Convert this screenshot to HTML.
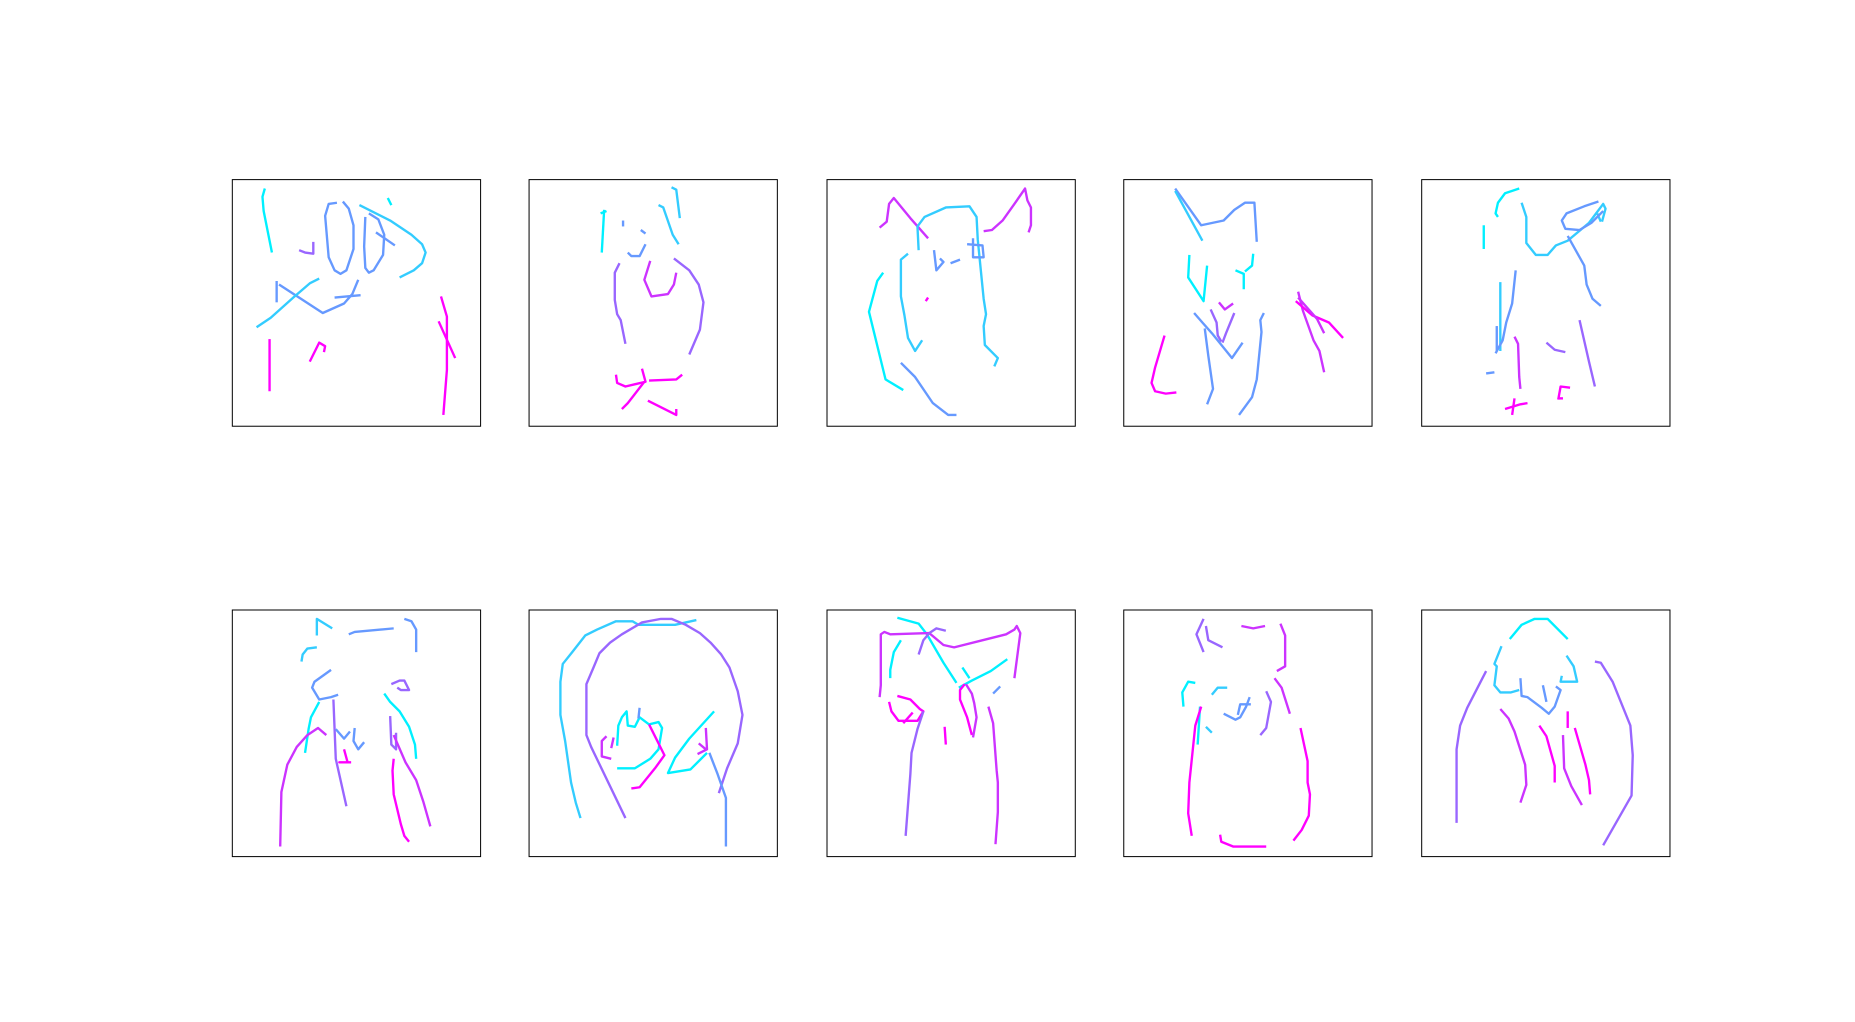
<!DOCTYPE html>
<html><head><meta charset="utf-8"><style>
html,body{margin:0;padding:0;background:#fff;}
svg{display:block;}
</style></head><body>
<svg id="fig" xmlns="http://www.w3.org/2000/svg" width="1855" height="1022" viewBox="0 0 1569 862" preserveAspectRatio="none">
<rect x="0" y="0" width="1569" height="862" fill="#fff"/>
</svg>
<script>
// panel origins (displayed coordinates)
const panelX = [196, 447, 699, 950, 1202];
const panelY = [151, 514];
const panelW = 210, panelH = 208;
const colors = ["#00f0ff", "#33ccff", "#6699ff", "#9966ff", "#cc33ff", "#ff00ff"];

// strokes: [colorIndex, flat absolute point list]
const sketch1 = [
[0,[224,159,222,166,223,178,230,213]],
[2,[290,170,295,176,299,190,299,210,293,228,288,231,283,228,278,217,275,182,278,172,285,171]],
[1,[304,173,330,186,348,198,357,206,360,213,357,222,350,228,338,234]],
[2,[312,180,320,185,325,198,324,215,316,228,312,230,309,226,308,208,309,183]],
[0,[328,167,331,173]],
[2,[318,196,334,207]],
[3,[253,211,258,213,265,214,265,204]],
[2,[234,237,234,255]],
[2,[236,240,273,264,291,256,298,248,303,236]],
[1,[217,276,229,268,248,251,262,239,270,235]],
[2,[283,251,305,249]],
[5,[228,286,228,330]],
[5,[262,305,270,289,275,292,274,297]],
[5,[373,250,378,267,378,312,375,350]],
[5,[371,271,385,302]]
];
const sketch2 = [
[0,[511,177,509,213]],[0,[508,180,513,178]],
[1,[568,158,572,160,575,184]],
[1,[557,173,561,175,569,198,574,206]],
[2,[527,186,527,191]],[2,[542,194,546,197]],
[2,[531,213,534,216,541,216,546,206]],
[3,[524,222,520,230,520,253,522,265,525,270,529,290]],
[4,[550,220,545,236,551,250,565,248,570,240,572,230]],
[3,[570,218,583,228,591,240,595,255,592,278,583,299]],
[5,[521,316,522,323,529,326,546,322,543,311]],
[5,[549,321,572,320,577,316]],
[5,[545,322,531,340,526,345]],
[5,[548,338,572,350,572,345]]
];
const sketch3 = [
[4,[744,192,750,187,752,172,756,167,770,184,785,201]],
[1,[777,211,776,191,782,183,800,175,820,174,826,183,827,202,832,252,834,265,832,275,833,291,844,302,841,309]],
[4,[832,195,839,194,848,186,858,172,867,159,869,169,872,175,872,190,870,196]],
[2,[790,211,792,228,798,221,795,218]],[2,[804,222,812,219]],
[2,[823,201,823,217,832,217,831,207,818,206]],
[1,[768,214,762,219,762,250,765,266,768,285,774,296,780,287]],
[0,[747,230,742,237,735,263,749,320,764,329]],
[5,[783,254,785,251]],
[2,[762,306,774,318,789,340,802,350,809,350]]
];
const sketch4 = [
[2,[994,159,1016,190,1035,186,1044,177,1053,171,1061,171,1063,204]],
[1,[994,161,1017,203]],
[0,[1006,215,1005,234,1018,254,1021,224]],
[0,[1045,228,1052,231,1052,244]],[0,[1060,214,1059,224,1053,229]],
[3,[1024,261,1029,272,1030,283,1033,288]],[4,[1031,255,1036,261,1043,256]],
[2,[1010,264,1017,272,1025,281,1042,302,1051,289]],
[3,[1044,264,1037,281,1034,289]],
[2,[1019,277,1022,300,1026,328,1021,341]],
[2,[1069,264,1066,270,1067,280,1063,320,1059,335,1048,350]],
[5,[985,283,977,310,974,323,977,330,986,332,995,331]],
[4,[1098,246,1102,262,1111,287,1116,296,1120,314]],
[5,[1096,254,1110,266,1124,272,1136,285]],[4,[1098,251,1114,269,1120,281]]
];
const sketch5 = [
[0,[1285,159,1273,163,1267,171,1265,180,1267,183]],
[0,[1255,190,1255,210]],
[1,[1287,171,1291,183,1291,205,1299,215,1309,215,1316,207,1326,203,1344,188,1356,172,1358,176,1355,187]],
[1,[1351,180,1354,187]],
[2,[1352,170,1340,174,1325,180,1321,186,1324,193,1336,194,1346,188,1356,178]],
[2,[1326,199,1340,224,1342,240,1347,252,1354,258]],
[1,[1269,238,1269,296]],[2,[1266,275,1266,296]],
[2,[1282,228,1279,256,1274,272,1271,287,1265,298]],
[4,[1281,284,1284,290,1285,318,1286,328]],
[3,[1308,289,1315,295,1324,297]],
[3,[1336,270,1344,305,1349,326]],
[2,[1257,315,1264,314]],
[5,[1273,345,1286,341,1292,340]],[5,[1281,336,1279,350]],
[5,[1318,337,1320,326,1328,327]],[5,[1318,336,1322,336]]
];
const sketch6 = [
[1,[268,536,268,522,281,530]],
[2,[295,535,300,533,333,530]],
[2,[342,522,348,524,352,531,352,550]],
[1,[268,546,260,547,256,552,255,558]],
[2,[280,565,266,575,264,580,270,590,280,588,286,586]],
[3,[282,590,284,640,293,680]],
[0,[270,592,263,605,261,615,258,635]],
[2,[284,615,291,623,296,617]],[2,[300,614,299,625,303,632,308,626]],
[0,[325,585,330,592,338,600,346,613,351,628,352,640]],
[3,[331,577,338,574,342,574,346,582,339,582,336,580]],
[3,[330,604,331,628,335,632,335,618]],
[4,[276,620,269,614,260,620,251,630,243,645,238,668,237,714]],
[5,[291,632,294,643,287,643,297,643]],
[4,[333,620,343,643,352,658,358,676,362,690,364,697]],
[5,[333,640,332,650,333,670,339,695,342,705,346,710]]
];
const sketch7 = [
[1,[589,523,571,527,540,527,535,524,521,524,505,531,495,536,484,550,476,560,474,575,474,603,478,625,483,660,487,677,491,690]],
[3,[529,690,500,630,496,620,496,577,502,563,507,551,516,542,526,535,543,525,559,522,568,522,580,527,592,534,601,542,610,552,617,563,624,583,628,603,624,627,615,648,608,669]],
[0,[522,629,523,612,526,605,530,600,531,612,537,613,541,605,549,611,557,609,560,614,557,632,550,640,537,648,528,648,522,648]],
[2,[541,597,540,606]],
[5,[549,611,562,637,554,648,541,664,534,665]],
[4,[513,621,509,625,509,638,517,640]],[4,[519,622,517,631]],
[0,[604,600,583,623,571,639,565,652,584,649,598,635]],
[4,[597,614,598,632,590,636]],[4,[591,627,597,632]],
[2,[600,635,607,653,614,673,614,714]]
];
const sketch8 = [
[0,[759,521,777,526,784,535,798,559,809,576]],
[4,[744,588,745,578,745,535,748,533,753,535,786,534,798,544,807,546,835,539,851,535,858,531,860,528,863,534,858,572]],
[0,[762,540,756,550,753,565,753,572]],
[3,[786,534,781,540,777,552]],[3,[786,534,792,530,800,532]],
[0,[814,563,820,572]],[0,[811,580,822,574,838,566,852,556]],
[2,[840,585,846,579]],
[5,[759,587,770,590,778,598,781,600,776,608,760,608,754,600,752,592]],
[5,[764,610,772,601]],
[3,[781,600,776,615,771,635,770,653,766,705]],
[5,[799,613,800,628]],
[5,[816,577,812,582,812,590,818,605,822,620]],
[4,[817,577,822,585,824,593,826,605,823,622]],
[4,[836,596,840,610,843,650,844,660,844,685,842,712]]
];
const sketch9 = [
[3,[1018,522,1012,535,1018,550]],[3,[1020,528,1022,540,1034,546]],
[4,[1050,528,1060,530,1070,528]],
[4,[1083,526,1087,536,1087,562,1080,566]],
[0,[1001,596,1000,584,1005,575,1011,576]],
[1,[1025,586,1030,580,1038,580]],
[1,[1020,613,1025,618]],
[2,[1035,602,1045,607,1049,605,1054,596,1057,588]],[2,[1047,603,1049,594,1058,594]],
[0,[1015,596,1013,628]],
[3,[1071,583,1075,592,1071,614,1066,620]],
[4,[1078,572,1084,580,1091,602]],
[5,[1016,596,1011,612,1006,660,1005,686,1008,705]],
[5,[1100,614,1106,642,1106,660,1108,670,1107,688,1101,700,1094,709]],
[5,[1032,704,1033,710,1043,714,1071,714]]
];
const sketch10 = [
[0,[1277,539,1287,527,1298,522,1309,522,1326,539]],
[1,[1270,545,1264,560,1266,562,1264,578,1269,584,1278,584,1285,582]],
[2,[1286,572,1287,587,1292,588,1304,597,1310,602,1315,596,1320,582,1316,579]],
[2,[1305,578,1308,592]],
[1,[1325,553,1331,562,1334,575,1320,575,1321,570]],
[3,[1257,566,1241,597,1235,612,1232,632,1232,694]],
[3,[1349,558,1354,559,1364,575,1379,612,1381,637,1380,671,1356,713]],
[4,[1269,598,1276,606,1281,617,1290,645,1291,662,1286,677]],
[5,[1302,612,1308,621,1315,646,1315,660]],
[5,[1326,600,1326,614]],[4,[1322,620,1323,648,1329,663,1338,679]],
[5,[1332,614,1341,645,1344,658,1345,670]]
];
const sketches = [sketch1,sketch2,sketch3,sketch4,sketch5,sketch6,sketch7,sketch8,sketch9,sketch10];

const NS = "http://www.w3.org/2000/svg";
const svg = document.getElementById("fig");
sketches.forEach((strokes, i) => {
  const px = panelX[i % 5], py = panelY[Math.floor(i / 5)];
  const g = document.createElementNS(NS, "g");
  
  
  strokes.forEach((s, j) => {
    const pts = [];
    for (let k = 0; k < s[1].length; k += 2) pts.push(s[1][k] + "," + s[1][k + 1]);
    const pl = document.createElementNS(NS, "polyline");
    pl.setAttribute("points", pts.join(" "));
    pl.setAttribute("fill", "none");
    pl.setAttribute("stroke", colors[s[0]]);
    pl.setAttribute("stroke-width", "2");
    pl.setAttribute("stroke-linejoin", "round");
    
    
    g.appendChild(pl);
  });
  const r = document.createElementNS(NS, "rect");
  r.setAttribute("x", px + 0.5); r.setAttribute("y", py + 0.5);
  r.setAttribute("width", panelW); r.setAttribute("height", panelH);
  r.setAttribute("fill", "none"); r.setAttribute("stroke", "#000"); r.setAttribute("stroke-width", "0.85");
  
  
  g.appendChild(r);
  svg.appendChild(g);
});
</script>
</body></html>
